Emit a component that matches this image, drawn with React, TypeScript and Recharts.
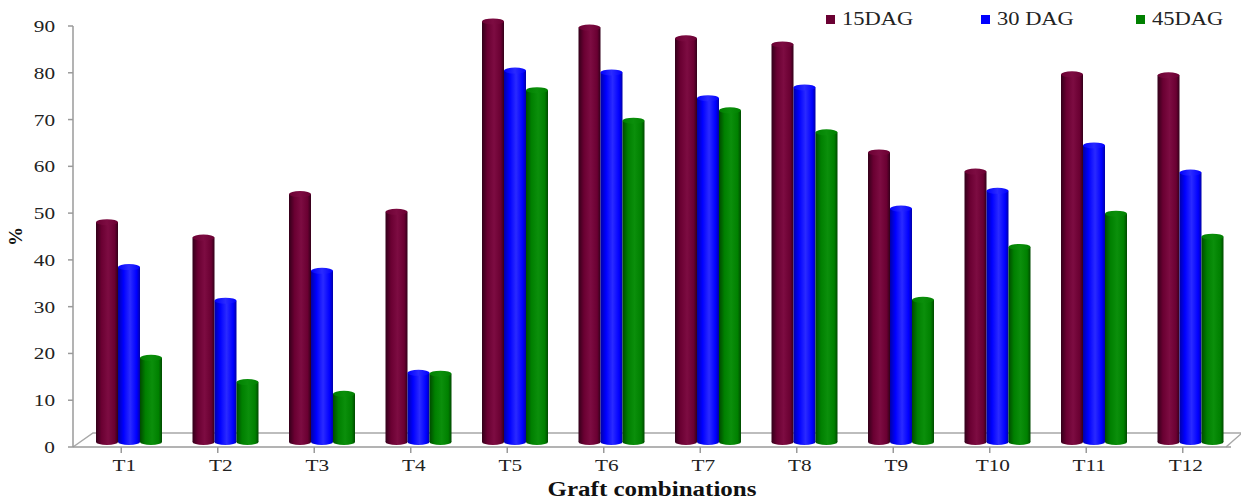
import React from "react";
import { BarChart, Bar, XAxis, YAxis } from "recharts";

const categories = ["T1", "T2", "T3", "T4", "T5", "T6", "T7", "T8", "T9", "T10", "T11", "T12"];
const dag15 = [47, 43.7, 53, 49.2, 89.9, 88.6, 86.3, 85, 61.9, 57.8, 78.6, 78.4];
const dag30 = [37.4, 30.2, 36.6, 14.8, 79.4, 79, 73.5, 75.8, 49.9, 53.7, 63.4, 57.6];
const dag45 = [18, 12.8, 10.3, 14.6, 75.2, 68.7, 70.9, 66.2, 30.4, 41.7, 48.8, 43.9];
const yTicks = [0, 10, 20, 30, 40, 50, 60, 70, 80, 90];

const series = [
  { key: "d15", name: "15DAG", color: "#6a0032", dark: "#33001a", light: "#7d0c42" },
  { key: "d30", name: "30 DAG", color: "#0000ff", dark: "#0000a8", light: "#2a2aff" },
  { key: "d45", name: "45DAG", color: "#008000", dark: "#004a00", light: "#0b8f0b" },
];

const data = categories.map((name, i) => ({
  name,
  d15: dag15[i],
  d30: dag30[i],
  d45: dag45[i],
}));

const FONT = "'Liberation Serif', 'DejaVu Serif', serif";
const SX = 1.25; // the reference text is stretched sideways
const DX = 7;
const DY = -5;

function cylinder(id: string) {
  return (props: any) => {
    const { x, y, width, height } = props;
    if (!height || height <= 0) return null;
    const ry = 3;
    const bx = x + DX;
    const by = y + DY;
    return (
      <g>
        <rect x={bx} y={by} width={width} height={height} fill={`url(#grad-${id})`} />
        <ellipse cx={bx + width / 2} cy={by + height} rx={width / 2} ry={ry} fill={`url(#grad-${id})`} />
        <ellipse cx={bx + width / 2} cy={by} rx={width / 2} ry={ry} fill={`url(#top-${id})`} />
      </g>
    );
  };
}

function XTick(props: any) {
  const { x, y, payload } = props;
  return (
    <g transform={`translate(${x + 3},${y})`}>
      <text transform={`scale(${SX},1)`} textAnchor="middle" dy={14} fill="#222" fontSize={17} fontFamily={FONT}>
        {payload.value}
      </text>
    </g>
  );
}

function YTick(props: any) {
  const { x, y, payload } = props;
  return (
    <g transform={`translate(${x},${y})`}>
      <text transform={`scale(${SX},1)`} textAnchor="end" dy={6} fill="#222" fontSize={17} fontFamily={FONT}>
        {payload.value}
      </text>
    </g>
  );
}

function XTitle(props: any) {
  const { viewBox } = props;
  const cx = viewBox.x + viewBox.width / 2;
  return (
    <g transform={`translate(${cx},${viewBox.y + viewBox.height - 5})`}>
      <text transform={`scale(${SX},1)`} textAnchor="middle" fill="#111" fontSize={20} fontWeight="bold" fontFamily={FONT}>
        Graft combinations
      </text>
    </g>
  );
}

function YTitle(props: any) {
  const { viewBox } = props;
  const cy = viewBox.y + viewBox.height / 2;
  return (
    <text
      x={22}
      y={cy}
      transform={`rotate(-90, 22, ${cy})`}
      textAnchor="middle"
      fill="#111"
      fontSize={19}
      fontWeight="bold"
      fontFamily={FONT}
    >
      %
    </text>
  );
}

function LegendBox() {
  return (
    <div
      style={{
        position: "absolute",
        left: 826,
        top: 9,
        display: "flex",
        fontFamily: FONT,
        fontSize: 18,
        color: "#222",
      }}
    >
      {series.map((s) => (
        <div key={s.key} style={{ width: 155, display: "flex", alignItems: "center" }}>
          <span style={{ display: "inline-block", width: 9, height: 9, background: s.color, marginRight: 7 }} />
          <span style={{ display: "inline-block", transform: `scaleX(${SX})`, transformOrigin: "left center" }}>
            {s.name}
          </span>
        </div>
      ))}
    </div>
  );
}

export default function App() {
  return (
    <div style={{ position: "absolute", left: 0, top: 0, width: 1241, height: 501, background: "#fff" }}>
      {/* 3D floor */}
      <svg width={1241} height={501} style={{ position: "absolute", left: 0, top: 0 }}>
        <polyline points="73,447 93,433 1242,433 1226,447" fill="none" stroke="#a8a8a8" strokeWidth={1.5} />
      </svg>
      <div style={{ position: "absolute", left: 0, top: 0 }}>
        <BarChart
          width={1241}
          height={501}
          data={data}
          margin={{ top: 26, right: 10, left: 0, bottom: 0 }}
          barCategoryGap={16}
          barGap={0}
        >
          <defs>
            {series.map((s) => (
              <linearGradient key={s.key} id={`grad-${s.key}`} x1="0" y1="0" x2="1" y2="0">
                <stop offset="0%" stopColor={s.dark} />
                <stop offset="25%" stopColor={s.color} />
                <stop offset="55%" stopColor={s.light} />
                <stop offset="85%" stopColor={s.color} />
                <stop offset="100%" stopColor={s.dark} />
              </linearGradient>
            ))}
            {series.map((s) => (
              <linearGradient key={s.key} id={`top-${s.key}`} x1="0" y1="0" x2="1" y2="0">
                <stop offset="0%" stopColor={s.color} />
                <stop offset="50%" stopColor={s.light} />
                <stop offset="100%" stopColor={s.color} />
              </linearGradient>
            ))}
          </defs>
          <XAxis
            dataKey="name"
            height={54}
            stroke="#9a9a9a"
            strokeWidth={1.5}
            tickSize={6}
            tickMargin={4}
            interval={0}
            tick={<XTick />}
            label={<XTitle />}
          />
          <YAxis
            width={73}
            domain={[0, 90]}
            ticks={yTicks}
            stroke="#9a9a9a"
            strokeWidth={1.5}
            tickSize={5}
            tickMargin={13}
            tick={<YTick />}
            label={<YTitle />}
          />
          {series.map((s) => (
            <Bar
              key={s.key}
              dataKey={s.key}
              name={s.name}
              fill={s.color}
              shape={cylinder(s.key)}
              isAnimationActive={false}
            />
          ))}
        </BarChart>
      </div>
      <LegendBox />
    </div>
  );
}
